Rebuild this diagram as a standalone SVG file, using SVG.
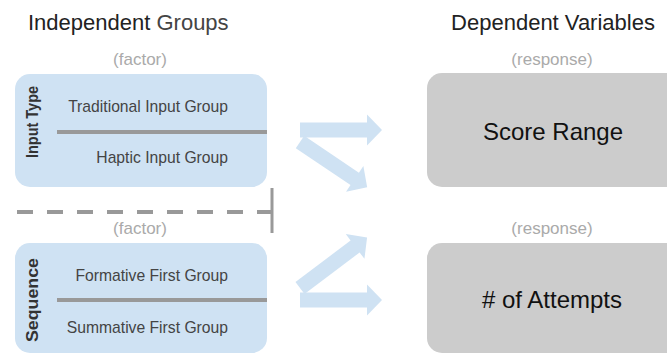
<svg xmlns="http://www.w3.org/2000/svg" width="667" height="355" viewBox="0 0 667 355">
<style>
.t{font-family:"Liberation Sans",Arial,sans-serif}
.title{font-size:22px;fill:#222}
.note{font-size:17px;fill:#aaa;text-anchor:middle}
.item{font-size:15.7px;fill:#444;text-anchor:end}
.side{font-size:16px;font-weight:bold;fill:#333;text-anchor:middle}
.big{font-size:24px;fill:#111;text-anchor:middle}
.blue{fill:#cfe2f3}
.gray{fill:#cccccc}
.div{stroke:#999;stroke-width:4;fill:none}
.arr{fill:#cfe2f3}
</style>
<text class="t title" x="28" y="30">Independent<tspan fill="#444"> Groups</tspan></text>
<text class="t title" x="553" y="30" text-anchor="middle">Dependent Variables</text>
<text class="t note" x="140" y="65">(factor)</text>
<text class="t note" x="140" y="234">(factor)</text>
<text class="t note" x="552" y="65">(response)</text>
<text class="t note" x="552" y="234">(response)</text>
<g id="input-type">
<rect class="blue" x="15" y="74" width="252" height="113" rx="15"/>
<line class="div" x1="57" y1="132" x2="267" y2="132"/>
<text class="t item" x="228" y="112">Traditional Input Group</text>
<text class="t item" x="228" y="163">Haptic Input Group</text>
<text class="t side" transform="translate(38,122) rotate(-90)" textLength="72" lengthAdjust="spacingAndGlyphs">Input Type</text>
</g>
<g id="sequence">
<rect class="blue" x="15" y="243" width="252" height="110" rx="15"/>
<line class="div" x1="57" y1="300" x2="267" y2="300"/>
<text class="t item" x="228" y="281">Formative First Group</text>
<text class="t item" x="228" y="333">Summative First Group</text>
<text class="t side" transform="translate(38,300) rotate(-90)" textLength="84" lengthAdjust="spacingAndGlyphs">Sequence</text>
</g>
<g id="separator">
<line x1="17" y1="212" x2="273" y2="212" stroke="#999" stroke-width="4" stroke-dasharray="16 14"/>
<line x1="272" y1="188" x2="272" y2="233" stroke="#999" stroke-width="3"/>
</g>
<g id="score-range">
<rect class="gray" x="427" y="73" width="260" height="114" rx="15"/>
<text class="t big" x="553" y="140">Score Range</text>
</g>
<g id="attempts">
<rect class="gray" x="427" y="243" width="260" height="110" rx="15"/>
<text class="t big" x="552" y="308"># of Attempts</text>
</g>
<g id="connectors">
<polygon class="arr" transform="translate(300,130)" points="0,-7.5 67,-7.5 67,-15.5 82,0 67,15.5 67,7.5 0,7.5"/>
<polygon class="arr" transform="translate(300,142) rotate(34)" points="0,-7.5 66,-7.5 66,-15.5 81,0 66,15.5 66,7.5 0,7.5"/>
<polygon class="arr" transform="translate(300,300)" points="0,-7.5 67,-7.5 67,-15.5 82,0 67,15.5 67,7.5 0,7.5"/>
<polygon class="arr" transform="translate(300,288) rotate(-37)" points="0,-7.5 69,-7.5 69,-15.5 84,0 69,15.5 69,7.5 0,7.5"/>
</g>
</svg>
